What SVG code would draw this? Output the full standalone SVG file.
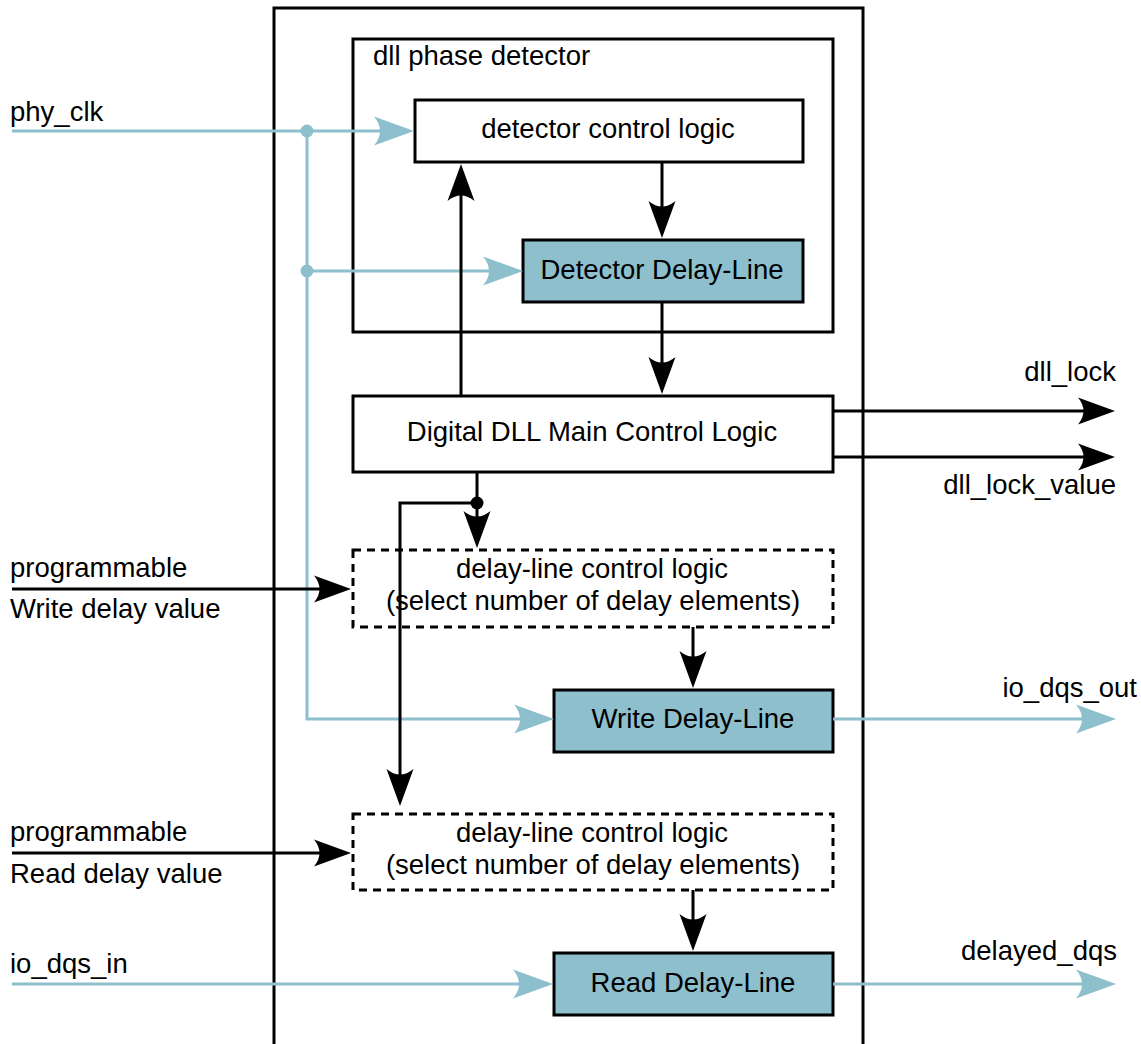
<svg xmlns="http://www.w3.org/2000/svg" width="1141" height="1044" viewBox="0 0 1141 1044">
<style>
text{font-family:"Liberation Sans",Arial,Helvetica,sans-serif;font-size:27.5px;fill:#000}
.c{text-anchor:middle}
.e{text-anchor:end}
.box{fill:#fff;stroke:#000;stroke-width:3}
.dl{fill:#8dbfcd;stroke:#000;stroke-width:3}
.dash{fill:#fff;stroke:#000;stroke-width:3;stroke-dasharray:8 6}
.bk{fill:none;stroke:#000;stroke-width:3}
.bl{fill:none;stroke:#8dbfcd;stroke-width:3}
</style>
<defs>
<marker id="ab" markerUnits="userSpaceOnUse" viewBox="-32 -15 44 30" markerWidth="44" markerHeight="30" refX="0" refY="0" orient="auto" overflow="visible">
<path d="M10,0 L-27,-13.5 Q-16,0 -27,13.5 Z" fill="#000"/>
</marker>
<marker id="au" markerUnits="userSpaceOnUse" viewBox="-32 -15 44 30" markerWidth="44" markerHeight="30" refX="0" refY="0" orient="auto" overflow="visible">
<path d="M10,0 L-30,-14.5 Q-18,0 -30,14.5 Z" fill="#8dbfcd"/>
</marker>
</defs>
<rect x="0" y="0" width="1141" height="1044" fill="#fff"/>
<g id="outer"><rect class="box" x="274" y="8" width="589" height="1100"/></g>
<g id="phase-detector"><rect class="box" x="353" y="39" width="480" height="293"/><text x="373" y="65">dll phase detector</text></g>
<g id="detector-control"><rect class="box" x="415" y="100" width="388" height="62"/><text class="c" x="608" y="138">detector control logic</text></g>
<g id="detector-delay"><rect class="dl" x="523" y="240" width="280" height="62"/><text class="c" x="662" y="279">Detector Delay-Line</text></g>
<g id="main-control"><rect class="box" x="353" y="396" width="480" height="76"/><text class="c" x="592" y="441">Digital DLL Main Control Logic</text></g>
<g id="write-control"><rect class="dash" x="353" y="550" width="480" height="77"/><text class="c" x="592" y="578">delay-line control logic</text><text class="c" x="593" y="610">(select number of delay elements)</text></g>
<g id="write-delay"><rect class="dl" x="554" y="690" width="279" height="62"/><text class="c" x="693" y="728">Write Delay-Line</text></g>
<g id="read-control"><rect class="dash" x="353" y="814" width="480" height="76"/><text class="c" x="592" y="842">delay-line control logic</text><text class="c" x="593" y="874">(select number of delay elements)</text></g>
<g id="read-delay"><rect class="dl" x="554" y="953" width="279" height="62"/><text class="c" x="693" y="992">Read Delay-Line</text></g>
<g id="connectors">
<path class="bl" d="M12,131 H404" marker-end="url(#au)"/>
<path class="bl" d="M307,131 V719 H544" marker-end="url(#au)"/>
<path class="bl" d="M307,271 H513" marker-end="url(#au)"/>
<circle cx="307" cy="131" r="6.5" fill="#8dbfcd"/>
<circle cx="307" cy="271" r="6.5" fill="#8dbfcd"/>
<path class="bl" d="M833,719 H1106" marker-end="url(#au)"/>
<path class="bl" d="M12,984 H543" marker-end="url(#au)"/>
<path class="bl" d="M833,984 H1106" marker-end="url(#au)"/>
<path class="bk" d="M461,396 V174" marker-end="url(#ab)"/>
<path class="bk" d="M662,162 V228" marker-end="url(#ab)"/>
<path class="bk" d="M662,302 V384" marker-end="url(#ab)"/>
<path class="bk" d="M833,411 H1105" marker-end="url(#ab)"/>
<path class="bk" d="M833,457 H1105" marker-end="url(#ab)"/>
<path class="bk" d="M477,472 V538" marker-end="url(#ab)"/>
<circle cx="477" cy="503" r="6.5" fill="#000"/>
<path class="bk" d="M477,503 H400 V796" marker-end="url(#ab)"/>
<path class="bk" d="M12,589 H341" marker-end="url(#ab)"/>
<path class="bk" d="M693,627 V678" marker-end="url(#ab)"/>
<path class="bk" d="M12,853 H341" marker-end="url(#ab)"/>
<path class="bk" d="M693,890 V941" marker-end="url(#ab)"/>
</g>
<g id="labels">
<text x="10" y="121">phy_clk</text>
<text class="e" x="1116" y="381">dll_lock</text>
<text class="e" x="1116" y="494">dll_lock_value</text>
<text x="10" y="577">programmable</text>
<text x="10" y="618">Write delay value</text>
<text class="e" x="1137" y="697">io_dqs_out</text>
<text x="10" y="841">programmable</text>
<text x="10" y="883">Read delay value</text>
<text x="10" y="973">io_dqs_in</text>
<text class="e" x="1117" y="960">delayed_dqs</text>
</g>
</svg>
